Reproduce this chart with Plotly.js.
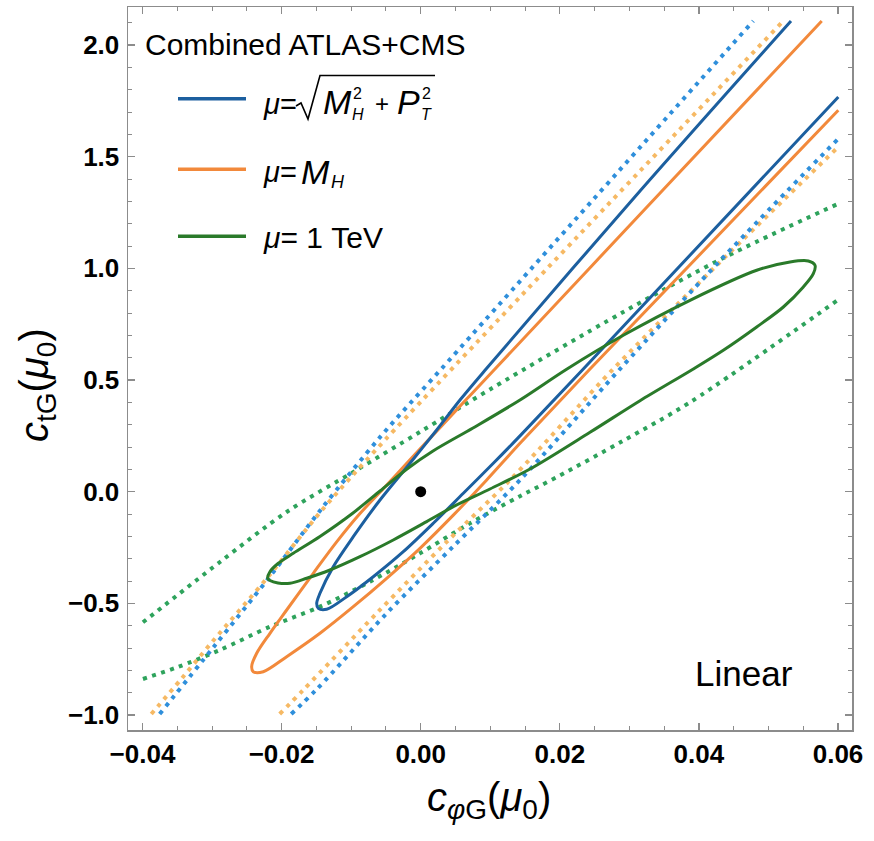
<!DOCTYPE html>
<html>
<head>
<meta charset="utf-8">
<script src="https://cdn.plot.ly/plotly-3.0.1.min.js"></script>
<style>html,body{margin:0;padding:0;background:#fff;}#chart{width:874px;height:841px;}</style>
</head>
<body>
<div id="chart"></div>
<script>
// ---- data (x = c_phiG, y = c_tG) ----
const blueSolidX = [0.05324,0.03153,0.00940,0.00565,0.00230,-0.00154,-0.00585,-0.00969,-0.01257,-0.01448,-0.01495,-0.01472,-0.01352,-0.01064,-0.00682,-0.00250,0.00181,0.00613,0.01044,0.01428,0.02338,0.06004];
const blueSolidY = [2.1079,1.3466,0.5495,0.4107,0.2763,0.1272,-0.0372,-0.2015,-0.3359,-0.4550,-0.4998,-0.5222,-0.5266,-0.4702,-0.3807,-0.2687,-0.1415,-0.0072,0.1272,0.2500,0.5495,1.7676];

const orangeSolidX = [0.05766,0.03469,0.01068,0.00661,0.00230,-0.00154,-0.00538,-0.00873,-0.01208,-0.01544,-0.01927,-0.02167,-0.02358,-0.02430,-0.02407,-0.02263,-0.01927,-0.01448,-0.00969,-0.00489,-0.00010,0.00469,0.00949,0.01428,0.02434,0.06004];
const orangeSolidY = [2.1079,1.3466,0.5494,0.4147,0.2712,0.1426,0.0132,-0.0980,-0.2250,-0.3654,-0.5298,-0.6341,-0.7237,-0.7837,-0.8061,-0.8061,-0.7389,-0.6341,-0.5150,-0.3878,-0.2535,-0.1050,0.0524,0.2167,0.5495,1.7080];

const greenSolidX = [0.00996,0.00469,0.00086,-0.00394,-0.00873,-0.01304,-0.01639,-0.01879,-0.02052,-0.02167,-0.02200,-0.02167,-0.02047,-0.01832,-0.01448,-0.00973,-0.00585,-0.00197,0.00177,0.00752,0.01428,0.02104,0.02913,0.03872,0.04831,0.05310,0.05573,0.05669,0.05645,0.05501,0.05214,0.04831,0.04351,0.03920,0.03153,0.02434,0.01572,0.00996];
const greenSolidY = [0.0121,-0.0672,-0.1343,-0.2163,-0.2911,-0.3507,-0.3878,-0.4102,-0.4089,-0.3977,-0.3878,-0.3583,-0.3206,-0.2759,-0.2006,-0.0954,0.0031,0.1017,0.1822,0.2853,0.4107,0.5495,0.7004,0.8571,0.9915,1.0287,1.0331,1.0139,0.9763,0.9167,0.8271,0.7376,0.6332,0.5495,0.4075,0.2660,0.1017,0.0121];

const blueDotUpperX = [-0.03753,-0.02962,-0.02196,-0.01429,-0.00566,0.00296,0.04782];
const blueDotUpperY = [-0.9955,-0.6897,-0.3910,-0.0775,0.2508,0.5495,2.1080];
const blueDotLowerX = [-0.01861,-0.01495,-0.00489,0.00469,0.01428,0.02866,0.04351,0.06004];
const blueDotLowerY = [-0.9955,-0.8850,-0.5446,-0.2450,0.0524,0.5495,1.0500,1.5810];

const orangeDotUpperX = [-0.03873,-0.03442,-0.03011,-0.02196,-0.01405,-0.00513,0.05213];
const orangeDotUpperY = [-0.9955,-0.8388,-0.6776,-0.3820,-0.0775,0.2315,2.1080];
const orangeDotLowerX = [-0.02027,-0.01688,-0.00633,0.00374,0.01331,0.02769,0.04303,0.06004];
const orangeDotLowerY = [-0.9955,-0.8880,-0.5446,-0.2250,0.0672,0.5495,1.0280,1.5440];

const greenDotUpperX = [-0.03993,-0.02886,-0.01927,-0.00945,-0.00010,0.00996,0.02913,0.04351,0.06004];
const greenDotUpperY = [-0.5849,-0.3148,-0.0909,0.0927,0.2674,0.4580,0.8048,1.0466,1.2897];
const greenDotLowerX = [-0.03993,-0.03490,-0.02886,-0.02167,-0.01448,-0.00729,-0.00010,0.00709,0.01428,0.01955,0.02913,0.03872,0.06004];
const greenDotLowerY = [-0.8388,-0.7850,-0.7089,-0.6046,-0.5150,-0.4030,-0.2759,-0.1415,-0.0200,0.0650,0.2284,0.4004,0.8598];

const smPointX = [0];
const smPointY = [0];

const xTickVals = [-0.04,-0.02,0.00,0.02,0.04,0.06];
const yTickVals = [-1.0,-0.5,0.0,0.5,1.0,1.5,2.0];

// ---- styling ----
const C = {
  blue:'#1c5f9f', orange:'#f2893b', green:'#2a7a2a',
  blueDot:'#2f8fdb', orangeDot:'#f6b964', greenDot:'#2ea35c'
};
const DOT = '4px,5.5px';
function line(x,y,color,width,dash){
  return {x:x,y:y,type:'scatter',mode:'lines',hoverinfo:'skip',showlegend:false,
          line:{color:color,width:width,dash:dash||'solid',shape:'spline',smoothing:0.9}};
}
const traces = [
  line(greenDotUpperX,greenDotUpperY,C.greenDot,4,DOT),
  line(greenDotLowerX,greenDotLowerY,C.greenDot,4,DOT),
  line(orangeDotUpperX,orangeDotUpperY,C.orangeDot,4,DOT),
  line(orangeDotLowerX,orangeDotLowerY,C.orangeDot,4,DOT),
  line(blueDotUpperX,blueDotUpperY,C.blueDot,4,DOT),
  line(blueDotLowerX,blueDotLowerY,C.blueDot,4,DOT),
  line(orangeSolidX,orangeSolidY,C.orange,3),
  line(blueSolidX,blueSolidY,C.blue,3),
  line(greenSolidX,greenSolidY,C.green,3),
  {x:smPointX,y:smPointY,type:'scatter',mode:'markers',hoverinfo:'skip',showlegend:false,
   marker:{color:'#000',size:11}}
];

// pixel -> paper helpers (plot frame: x 128..852, y 7..730)
const L=128,R=852,T=7,B=730;
const px = v => (v-L)/(R-L);
const py = v => (B-v)/(B-T);
const FONT = 'Liberation Sans, Arial, Helvetica, sans-serif';
function ann(text,x,y,size,opts){
  return Object.assign({text:text,xref:'paper',yref:'paper',x:px(x),y:py(y),
    xanchor:'left',yanchor:'middle',showarrow:false,borderpad:0,
    font:{family:FONT,size:size,color:'#000'}},opts||{});
}
const annotations = [
  ann('Combined ATLAS+CMS',144,44,30),
  // entry 1
  ann('<i>μ</i>=',262,104,29),
  ann('<i>M</i>',322,102,34),
  ann('2',352,93,16),
  ann('<i>H</i>',351,114,16),
  ann('+',374,104,24),
  ann('<i>P</i>',396,102,34),
  ann('2',421,93,16),
  ann('<i>T</i>',420,114,16),
  // entry 2
  ann('<i>μ</i>=',262,172,29),
  ann('<i>M</i>',300,172,34),
  ann('<i>H</i>',330,182,18),
  // entry 3
  ann('<i>μ</i>= 1 TeV',262,238,30),
  // Linear
  ann('Linear',694,673,35),
  // axis titles
  ann('<i>c</i><sub><i>φ</i>G</sub>(<i>μ</i><sub>0</sub>)',489,800,40,{xanchor:'center'}),
  ann('<i>c</i><sub>tG</sub>(<i>μ</i><sub>0</sub>)',37,385,40,{xanchor:'center',textangle:-90})
];
function hline(x0,x1,y,color){
  return {type:'line',xref:'paper',yref:'paper',x0:px(x0),x1:px(x1),y0:py(y),y1:py(y),
          line:{color:color,width:3.5}};
}
const radical = [[296,106],[301,103],[308,119],[320,75.5],[435,75.5]]
  .map((p,i)=>(i?'L':'M')+px(p[0])+','+py(p[1])).join(' ');
const shapes = [
  hline(178,246,98.7,C.blue),
  hline(178,246,169.3,C.orange),
  hline(178,246,236.3,C.green),
  {type:'path',xref:'paper',yref:'paper',path:radical,line:{color:'#000',width:1.6}}
];
const axCommon = {
  showgrid:false, zeroline:false, showline:true, linecolor:'#8c8c8c', linewidth:1.5,
  mirror:'ticks', ticks:'inside', ticklen:7, tickwidth:1.2, tickcolor:'#8c8c8c',
  tickfont:{family:FONT,size:26,color:'#000',weight:'bold'}
};
const layout = {
  width:874, height:841,
  margin:{l:L,r:874-R,t:T,b:841-B,pad:0},
  paper_bgcolor:'#fff', plot_bgcolor:'#fff',
  showlegend:false,
  xaxis:Object.assign({},axCommon,{range:[-0.04208,0.06201],tickvals:xTickVals,tickformat:'.2f',
     ticklabelstandoff:0,
     minor:{ticks:'inside',ticklen:4,tickwidth:1,tickcolor:'#8c8c8c',dtick:0.005,tick0:0,showgrid:false}}),
  yaxis:Object.assign({},axCommon,{range:[-1.0672,2.1706],tickvals:yTickVals,tickformat:'.1f',
     ticklabelstandoff:2,
     minor:{ticks:'inside',ticklen:4,tickwidth:1,tickcolor:'#8c8c8c',dtick:0.1,tick0:0,showgrid:false}}),
  annotations:annotations,
  shapes:shapes
};
Plotly.newPlot('chart',traces,layout,{displayModeBar:false,staticPlot:true});
</script>
</body>
</html>
